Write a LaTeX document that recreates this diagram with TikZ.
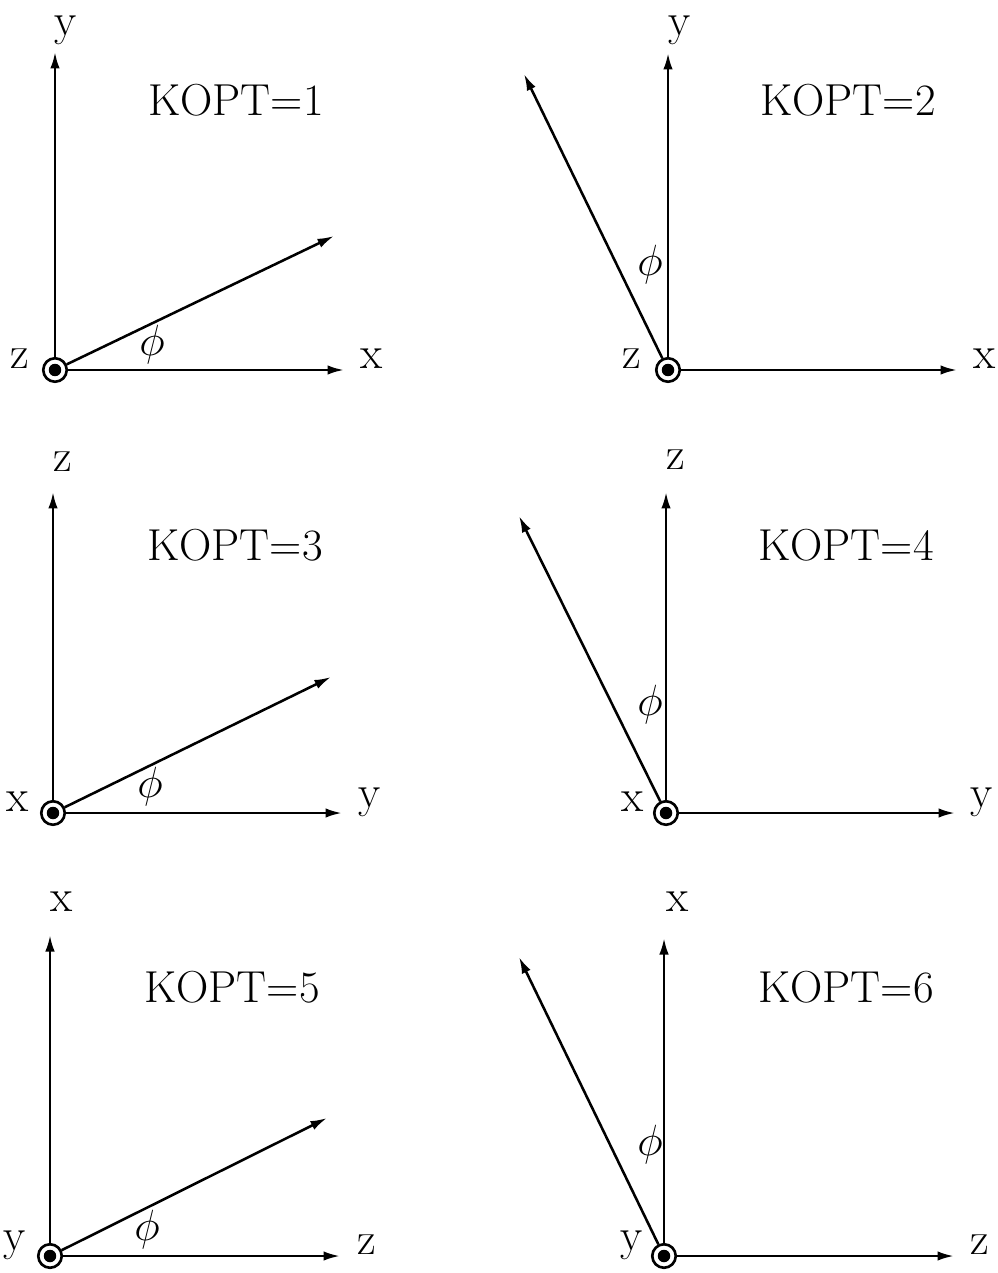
\documentclass[tikz,border=0pt]{standalone}
\usetikzlibrary{arrows.meta}
\begin{document}
\begin{tikzpicture}[x=0.02cm,y=-0.02cm,
  axis/.style={line width=1.45pt,-{Latex[length=3.3mm,width=1.9mm]}},
  orig/.style={circle,draw,line width=1.5pt,minimum size=0.47cm,inner sep=0pt,
    path picture={\fill (path picture bounding box.center) circle (0.125cm);}},
  lbl/.style={font=\fontsize{26}{31}\selectfont,inner sep=0pt},
  title/.style={font=\fontsize{25.5}{30}\selectfont,inner sep=0pt},
  ang/.style={font=\fontsize{25}{30}\selectfont,inner sep=0pt}]
\useasboundingbox (0,0) rectangle (997,1273);

% Panel 1
\node[orig] (o1) at (55,370) {};
\coordinate (v1) at (55,52);
\coordinate (h1) at (344,370);
\coordinate (p1) at (334,236);
\draw[axis] (o1) -- (v1);
\draw[axis] (o1) -- (h1);
\draw[axis] (o1) -- (p1);
\node[lbl] (ly1) at (66,30) {y};
\node[lbl] (lx1) at (372,359) {x};
\node[lbl] (lz1) at (20,359) {z};
\node[title] (t1) at (236,100) {KOPT=1};
\node[ang] (a1) at (152,345) {$\phi$};

% Panel 2
\node[orig] (o2) at (668,370) {};
\coordinate (v2) at (668,53);
\coordinate (h2) at (957,370);
\coordinate (p2) at (524,74);
\draw[axis] (o2) -- (v2);
\draw[axis] (o2) -- (h2);
\draw[axis] (o2) -- (p2);
\node[lbl] (ly2) at (680,30) {y};
\node[lbl] (lx2) at (985,359) {x};
\node[lbl] (lz2) at (632,359) {z};
\node[title] (t2) at (848,100) {KOPT=2};
\node[ang] (a2) at (650,265) {$\phi$};

% Panel 3
\node[orig] (o3) at (53,813) {};
\coordinate (v3) at (53,492);
\coordinate (h3) at (342,813);
\coordinate (p3) at (331,677);
\draw[axis] (o3) -- (v3);
\draw[axis] (o3) -- (h3);
\draw[axis] (o3) -- (p3);
\node[lbl] (ly3) at (63,462) {z};
\node[lbl] (lx3) at (370,802) {y};
\node[lbl] (lz3) at (18,802) {x};
\node[title] (t3) at (235,545) {KOPT=3};
\node[ang] (a3) at (150,787) {$\phi$};

% Panel 4
\node[orig] (o4) at (666,813) {};
\coordinate (v4) at (666,492);
\coordinate (h4) at (955,813);
\coordinate (p4) at (519,516);
\draw[axis] (o4) -- (v4);
\draw[axis] (o4) -- (h4);
\draw[axis] (o4) -- (p4);
\node[lbl] (ly4) at (676,460) {z};
\node[lbl] (lx4) at (982,802) {y};
\node[lbl] (lz4) at (633,802) {x};
\node[title] (t4) at (846,545) {KOPT=4};
\node[ang] (a4) at (650,705) {$\phi$};

% Panel 5
\node[orig] (o5) at (50,1256) {};
\coordinate (v5) at (50,935);
\coordinate (h5) at (340,1256);
\coordinate (p5) at (327,1118);
\draw[axis] (o5) -- (v5);
\draw[axis] (o5) -- (h5);
\draw[axis] (o5) -- (p5);
\node[lbl] (ly5) at (62,902) {x};
\node[lbl] (lx5) at (367,1245) {z};
\node[lbl] (lz5) at (15,1245) {y};
\node[title] (t5) at (232,987) {KOPT=5};
\node[ang] (a5) at (147,1230) {$\phi$};

% Panel 6
\node[orig] (o6) at (664,1256) {};
\coordinate (v6) at (664,938);
\coordinate (h6) at (954,1256);
\coordinate (p6) at (519,957);
\draw[axis] (o6) -- (v6);
\draw[axis] (o6) -- (h6);
\draw[axis] (o6) -- (p6);
\node[lbl] (ly6) at (678,902) {x};
\node[lbl] (lx6) at (980,1245) {z};
\node[lbl] (lz6) at (632,1245) {y};
\node[title] (t6) at (846,987) {KOPT=6};
\node[ang] (a6) at (650,1145) {$\phi$};
\end{tikzpicture}
\end{document}
